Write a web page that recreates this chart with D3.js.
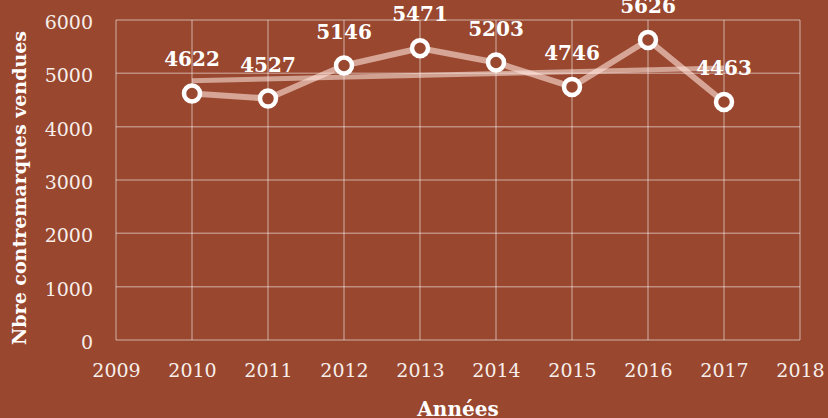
<!DOCTYPE html>
<html>
<head>
<meta charset="utf-8">
<script src="https://cdn.jsdelivr.net/npm/d3@7"></script>
<style>
  body { margin: 0; background: #99472F; }
  svg { display: block; font-family: "DejaVu Serif", "Liberation Serif", serif; }
</style>
</head>
<body>
<svg id="chart" width="828" height="418"></svg>
<script>
// data
const years = [2010, 2011, 2012, 2013, 2014, 2015, 2016, 2017];
const sales = [4622, 4527, 5146, 5471, 5203, 4746, 5626, 4463];
const trendYears = [2010, 2017];
const trendValues = [4860, 5100];
const xTicks = [2009, 2010, 2011, 2012, 2013, 2014, 2015, 2016, 2017, 2018];
const yTicks = [0, 1000, 2000, 3000, 4000, 5000, 6000];

const margin = { top: 20, right: 28, bottom: 78, left: 116 };
const width = 828 - margin.left - margin.right;
const height = 418 - margin.top - margin.bottom;

const svg = d3.select("#chart");
const g = svg.append("g")
    .attr("transform", `translate(${margin.left},${margin.top})`);

const x = d3.scaleLinear().domain([2009, 2018]).range([0, width]);
const y = d3.scaleLinear().domain([0, 6000]).range([height, 0]);

const gridColor = "rgba(255,255,255,0.38)";
const textColor = "#F7EEEA";

// grid
g.append("g")
    .selectAll("line")
    .data(yTicks)
    .join("line")
    .attr("x1", 0).attr("x2", width)
    .attr("y1", d => y(d)).attr("y2", d => y(d))
    .attr("stroke", gridColor).attr("stroke-width", 1.5);

g.append("g")
    .selectAll("line")
    .data(xTicks)
    .join("line")
    .attr("x1", d => x(d)).attr("x2", d => x(d))
    .attr("y1", 0).attr("y2", height)
    .attr("stroke", gridColor).attr("stroke-width", 1.5);

// axes (labels only)
const xAxis = g.append("g")
    .attr("transform", `translate(0,${height})`)
    .call(d3.axisBottom(x).tickValues(xTicks).tickFormat(d3.format("d")).tickSize(0).tickPadding(24));
const yAxis = g.append("g")
    .call(d3.axisLeft(y).tickValues(yTicks).tickFormat(d3.format("d")).tickSize(0).tickPadding(23));
[xAxis, yAxis].forEach(a => {
    a.select(".domain").remove();
    a.selectAll("text")
        .attr("fill", textColor)
        .style("font-family", "DejaVu Serif")
        .style("font-size", "19px");
});
yAxis.selectAll("text").attr("dy", "0.45em");

// trendline
g.append("path")
    .datum(trendYears.map((yr, i) => [yr, trendValues[i]]))
    .attr("fill", "none")
    .attr("stroke", "rgba(255,235,228,0.55)")
    .attr("stroke-width", 5)
    .attr("d", d3.line().x(d => x(d[0])).y(d => y(d[1])));

// series line
const points = years.map((yr, i) => ({ year: yr, value: sales[i] }));
g.append("path")
    .datum(points)
    .attr("fill", "none")
    .attr("stroke", "rgba(255,228,220,0.6)")
    .attr("stroke-width", 6)
    .attr("stroke-linejoin", "round")
    .attr("d", d3.line().x(d => x(d.year)).y(d => y(d.value)));

// markers
g.append("g")
    .selectAll("circle")
    .data(points)
    .join("circle")
    .attr("cx", d => x(d.year))
    .attr("cy", d => y(d.value))
    .attr("r", 8)
    .attr("fill", "#99472F")
    .attr("stroke", "#ffffff")
    .attr("stroke-width", 4.5);

// value labels
g.append("g")
    .selectAll("text")
    .data(points)
    .join("text")
    .attr("x", d => x(d.year))
    .attr("y", d => y(d.value) - 27)
    .attr("text-anchor", "middle")
    .attr("fill", "#ffffff")
    .style("font-weight", "bold")
    .style("font-size", "20px")
    .text(d => d.value);

// axis titles
svg.append("text")
    .attr("transform", `translate(26,${margin.top + height / 2 + 8}) rotate(-90)`)
    .attr("text-anchor", "middle")
    .attr("fill", "#ffffff")
    .style("font-weight", "bold")
    .style("font-size", "19px")
    .text("Nbre contremarques vendues");

svg.append("text")
    .attr("x", margin.left + width / 2)
    .attr("y", 416)
    .attr("text-anchor", "middle")
    .attr("fill", "#ffffff")
    .style("font-weight", "bold")
    .style("font-size", "20px")
    .text("Années");
</script>
</body>
</html>
